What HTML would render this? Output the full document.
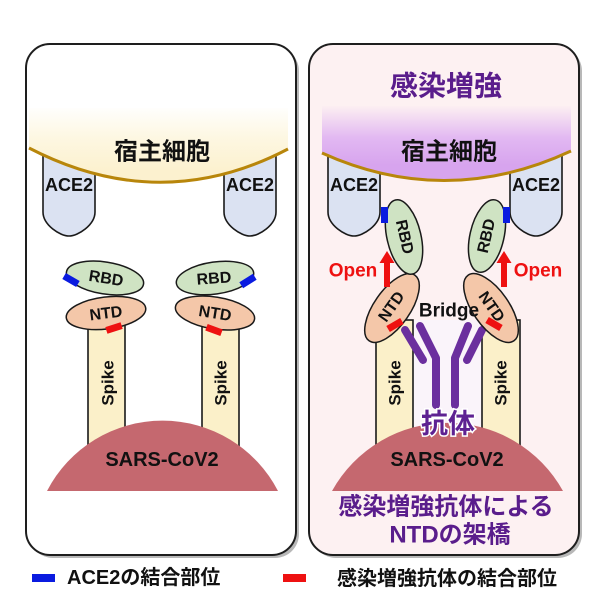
<!DOCTYPE html>
<html><head><meta charset="utf-8"><style>
html,body{margin:0;padding:0;background:#fff;}
svg{display:block;}
text{font-family:"Liberation Sans","Noto Sans CJK JP",sans-serif;font-weight:bold;}
</style></head><body>
<svg width="600" height="600" viewBox="0 0 600 600" xmlns="http://www.w3.org/2000/svg">
<defs>
<linearGradient id="gY" x1="0" y1="105" x2="0" y2="170" gradientUnits="userSpaceOnUse">
<stop offset="0" stop-color="#ffffff"/><stop offset="0.5" stop-color="#fdf7e2"/><stop offset="1" stop-color="#fcf1cf"/>
</linearGradient>
<linearGradient id="gP" x1="0" y1="105" x2="0" y2="165" gradientUnits="userSpaceOnUse">
<stop offset="0" stop-color="#fdf1f2"/><stop offset="0.55" stop-color="#e2b8f2"/><stop offset="1" stop-color="#d7a4ee"/>
</linearGradient>
</defs>
<!-- shadows -->
<rect x="29" y="47" width="270" height="511" rx="24" fill="#b8b8b8"/>
<rect x="312" y="47" width="270" height="511" rx="24" fill="#b8b8b8"/>
<!-- panels -->
<rect x="26" y="44" width="270" height="511" rx="24" fill="#ffffff" stroke="#1e1e1e" stroke-width="2"/>
<rect x="309" y="44" width="270" height="511" rx="24" fill="#fdf1f2" stroke="#1e1e1e" stroke-width="2"/>

<!-- LEFT PANEL -->
<!-- ACE2 -->
<path d="M43,140 L43,212 C43,225 60,236 69,236 C78,236 95,225 95,212 L95,140" fill="#dbe2f2" stroke="#1a1a1a" stroke-width="1.6"/>
<path d="M224,140 L224,212 C224,225 241,236 250,236 C259,236 276,225 276,212 L276,140" fill="#dbe2f2" stroke="#1a1a1a" stroke-width="1.6"/>
<!-- host -->
<path d="M29,108 L288,108 L288,149 Q160,216 29,148 Z" fill="url(#gY)"/>
<path d="M29,148 Q160,216 288,149" fill="none" stroke="#b8860b" stroke-width="3"/>
<text x="162" y="152" font-size="24" text-anchor="middle" dominant-baseline="central" fill="#111">宿主細胞</text>
<text x="69" y="185" font-size="18" text-anchor="middle" dominant-baseline="central" fill="#111">ACE2</text>
<text x="250" y="185" font-size="18" text-anchor="middle" dominant-baseline="central" fill="#111">ACE2</text>
<!-- spikes -->
<rect x="88" y="322" width="37" height="130" fill="#fbf0c9" stroke="#1a1a1a" stroke-width="1.6"/>
<rect x="202" y="322" width="37" height="130" fill="#fbf0c9" stroke="#1a1a1a" stroke-width="1.6"/>
<text transform="translate(108,383) rotate(-90)" font-size="17" text-anchor="middle" dominant-baseline="central" fill="#111">Spike</text>
<text transform="translate(221,383) rotate(-90)" font-size="17" text-anchor="middle" dominant-baseline="central" fill="#111">Spike</text>
<!-- virus -->
<path d="M47,491 A130,130 0 0 1 278,491 Z" fill="#c5686f"/>
<text x="162" y="460" font-size="20" text-anchor="middle" dominant-baseline="central" fill="#111">SARS-CoV2</text>
<!-- NTD -->
<ellipse cx="106" cy="313" rx="40" ry="16" transform="rotate(-7 106 313)" fill="#f4c7a9" stroke="#1a1a1a" stroke-width="1.5"/>
<ellipse cx="215" cy="313" rx="40" ry="16" transform="rotate(9 215 313)" fill="#f4c7a9" stroke="#1a1a1a" stroke-width="1.5"/>
<text transform="translate(106,314) rotate(-7)" font-size="16" text-anchor="middle" dominant-baseline="central" fill="#111">NTD</text>
<text transform="translate(215,314) rotate(9)" font-size="16" text-anchor="middle" dominant-baseline="central" fill="#111">NTD</text>
<rect x="-8" y="-3.5" width="16" height="7" transform="translate(114,328) rotate(-18)" fill="#ee1111"/>
<rect x="-8" y="-3.5" width="16" height="7" transform="translate(214,330) rotate(20)" fill="#ee1111"/>
<!-- RBD -->
<ellipse cx="105" cy="278" rx="39" ry="16" transform="rotate(9 105 278)" fill="#cfe3c3" stroke="#1a1a1a" stroke-width="1.5"/>
<ellipse cx="215" cy="278" rx="39" ry="16" transform="rotate(-8 215 278)" fill="#cfe3c3" stroke="#1a1a1a" stroke-width="1.5"/>
<text transform="translate(106,279) rotate(9)" font-size="16" text-anchor="middle" dominant-baseline="central" fill="#111">RBD</text>
<text transform="translate(214,279) rotate(-4)" font-size="16" text-anchor="middle" dominant-baseline="central" fill="#111">RBD</text>
<rect x="-8" y="-3.5" width="16" height="7" transform="translate(71,280) rotate(30)" fill="#0a1be0"/>
<rect x="-8" y="-3.5" width="16" height="7" transform="translate(248,281) rotate(-32)" fill="#0a1be0"/>

<!-- RIGHT PANEL -->
<text x="446" y="86" font-size="28" text-anchor="middle" dominant-baseline="central" fill="#5a1d8c">感染増強</text>
<path d="M328,140 L328,212 C328,225 345,236 354,236 C363,236 380,225 380,212 L380,140" fill="#dbe2f2" stroke="#1a1a1a" stroke-width="1.6"/>
<path d="M510,140 L510,212 C510,225 527,236 536,236 C545,236 562,225 562,212 L562,140" fill="#dbe2f2" stroke="#1a1a1a" stroke-width="1.6"/>
<path d="M322,106 L571,106 L571,151 Q446,209 322,153 Z" fill="url(#gP)"/>
<path d="M322,153 Q446,209 571,151" fill="none" stroke="#b8860b" stroke-width="3"/>
<text x="449" y="152" font-size="24" text-anchor="middle" dominant-baseline="central" fill="#111">宿主細胞</text>
<text x="354" y="185" font-size="18" text-anchor="middle" dominant-baseline="central" fill="#111">ACE2</text>
<text x="536" y="185" font-size="18" text-anchor="middle" dominant-baseline="central" fill="#111">ACE2</text>
<!-- center light band -->
<rect x="413" y="320" width="69" height="110" fill="#faf4fa"/>
<!-- spikes -->
<rect x="376" y="320" width="37" height="130" fill="#fbf0c9" stroke="#1a1a1a" stroke-width="1.6"/>
<rect x="482" y="320" width="38" height="130" fill="#fbf0c9" stroke="#1a1a1a" stroke-width="1.6"/>
<text transform="translate(395,383) rotate(-90)" font-size="17" text-anchor="middle" dominant-baseline="central" fill="#111">Spike</text>
<text transform="translate(501,383) rotate(-90)" font-size="17" text-anchor="middle" dominant-baseline="central" fill="#111">Spike</text>
<!-- virus -->
<path d="M332,491 A132,132 0 0 1 563,491 Z" fill="#c5686f"/>
<text x="447" y="460" font-size="20" text-anchor="middle" dominant-baseline="central" fill="#111">SARS-CoV2</text>
<!-- antibody -->
<g fill="none" stroke="#6b2f9e" stroke-width="8" stroke-linecap="round" stroke-linejoin="round">
<path d="M405,330 L423,360"/>
<path d="M420,326 L436,358 L436,405"/>
<path d="M468,326 L455,358 L455,405"/>
<path d="M482,330 L467,360"/>
</g>
<text x="448" y="424" font-size="27" text-anchor="middle" dominant-baseline="central" fill="#5e2192" stroke="#ffffff" stroke-width="3" paint-order="stroke">抗体</text>
<!-- NTD -->
<ellipse cx="392" cy="308" rx="40" ry="18" transform="rotate(-55 392 308)" fill="#f4c7a9" stroke="#1a1a1a" stroke-width="1.5"/>
<ellipse cx="491" cy="308" rx="40" ry="18" transform="rotate(55 491 308)" fill="#f4c7a9" stroke="#1a1a1a" stroke-width="1.5"/>
<text transform="translate(392,307) rotate(-55)" font-size="16" text-anchor="middle" dominant-baseline="central" fill="#111">NTD</text>
<text transform="translate(491,307) rotate(55)" font-size="16" text-anchor="middle" dominant-baseline="central" fill="#111">NTD</text>
<rect x="-8" y="-3.5" width="16" height="7" transform="translate(395,325) rotate(-30)" fill="#ee1111"/>
<rect x="-8" y="-3.5" width="16" height="7" transform="translate(494,324) rotate(30)" fill="#ee1111"/>
<!-- RBD -->
<ellipse cx="404" cy="237" rx="17" ry="38" transform="rotate(-13 404 237)" fill="#cfe3c3" stroke="#1a1a1a" stroke-width="1.5"/>
<ellipse cx="487" cy="236" rx="17" ry="37" transform="rotate(13 487 236)" fill="#cfe3c3" stroke="#1a1a1a" stroke-width="1.5"/>
<text transform="translate(404,237) rotate(77)" font-size="16" text-anchor="middle" dominant-baseline="central" fill="#111">RBD</text>
<text transform="translate(487,236) rotate(-77)" font-size="16" text-anchor="middle" dominant-baseline="central" fill="#111">RBD</text>
<rect x="381" y="207" width="7" height="16" fill="#0a1be0"/>
<rect x="503" y="207" width="7" height="16" fill="#0a1be0"/>
<!-- Open arrows -->
<rect x="384" y="262" width="6" height="25" fill="#ee1111"/>
<path d="M379.5,263 L387,251 L394.5,263 Z" fill="#ee1111"/>
<rect x="501" y="262" width="6" height="25" fill="#ee1111"/>
<path d="M496.5,263 L504,251 L511.5,263 Z" fill="#ee1111"/>
<text x="353" y="271" font-size="19" text-anchor="middle" dominant-baseline="central" fill="#ee1111">Open</text>
<text x="538" y="271" font-size="19" text-anchor="middle" dominant-baseline="central" fill="#ee1111">Open</text>
<text x="449" y="311" font-size="19" text-anchor="middle" dominant-baseline="central" fill="#111">Bridge</text>
<!-- bottom purple text -->
<text x="446" y="507" font-size="24" text-anchor="middle" dominant-baseline="central" fill="#5a1d8c">感染増強抗体による</text>
<text x="450" y="535" font-size="24" text-anchor="middle" dominant-baseline="central" fill="#5a1d8c">NTDの架橋</text>

<!-- legend -->
<rect x="32" y="574" width="23" height="8" fill="#0a1be0"/>
<text x="67" y="578" font-size="20" dominant-baseline="central" fill="#111">ACE2の結合部位</text>
<rect x="283" y="574" width="23" height="8" fill="#ee1111"/>
<text x="337" y="579" font-size="20" dominant-baseline="central" fill="#111">感染増強抗体の結合部位</text>
</svg>
</body></html>
